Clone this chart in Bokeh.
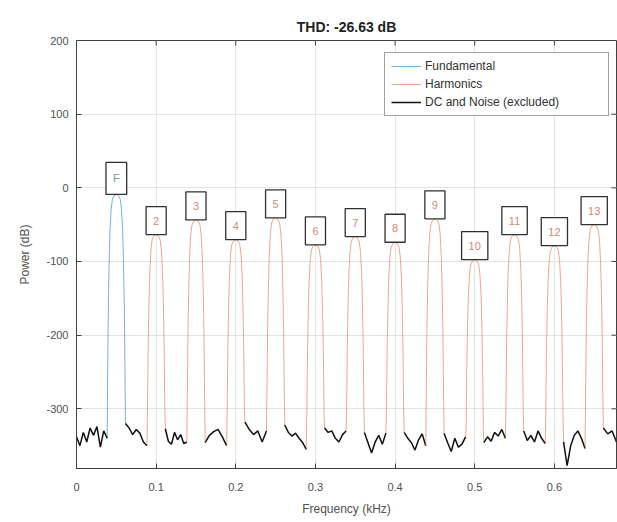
import numpy as np
from bokeh.plotting import figure
from bokeh.models import Range1d, FixedTicker, Legend, LegendItem, ColumnDataSource
from bokeh.core.properties import value
from bokeh.embed import file_html
from bokeh.resources import INLINE

# ---------------- data ----------------
title_text = "THD: -26.63 dB"
x_label = "Frequency (kHz)"
y_label = "Power (dB)"

fund_label = "F"
fund_freq = 0.05          # kHz
fund_db = -9.0            # dB (top of the fundamental peak)

harm_labels = ["2", "3", "4", "5", "6", "7", "8", "9", "10", "11", "12", "13"]
harm_freq = [0.10, 0.15, 0.20, 0.25, 0.30, 0.35, 0.40, 0.45, 0.50, 0.55, 0.60, 0.65]
harm_db = [-63.5, -43.5, -70.2, -40.8, -77.4, -66.2, -73.9, -42.1, -97.4, -63.5, -78.4, -49.9]

# shape of one spectral peak (offset from centre in kHz, drop below peak in dB)
lobe_offset = [0.0108, 0.0100, 0.0090, 0.0080, 0.0065, 0.0050, 0.0030]
lobe_drop = [-230, -150, -90, -50, -20, -7, -2]
lobe_base = 0.0115        # half width where the lobe meets the noise floor

# noise floor between the peaks (dB), one list per gap, left to right
noise_db = [
    [-338, -350, -332, -345, -326, -336, -324, -352, -330, -340],
    [-320, -326, -335, -328, -333, -345, -350],
    [-327, -344, -348, -332, -342, -335, -347, -345],
    [-346, -336, -331, -328, -338, -350],
    [-318, -328, -335, -330, -345, -330],
    [-322, -332, -337, -333, -340, -346, -355],
    [-326, -332, -330, -340, -345, -335, -330],
    [-332, -346, -360, -345, -336, -348, -333],
    [-332, -340, -346, -356, -342, -334, -350],
    [-333, -346, -358, -340, -352, -348, -338],
    [-346, -338, -344, -332, -337, -328, -340],
    [-330, -343, -336, -345, -330, -340, -347],
    [-345, -377, -350, -336, -330, -340, -354],
    [-326, -334, -330, -345],
]

x_ticks = [0, 0.1, 0.2, 0.3, 0.4, 0.5, 0.6]
x_tick_labels = ["0", "0.1", "0.2", "0.3", "0.4", "0.5", "0.6"]
y_ticks = [-300, -200, -100, 0, 100, 200]
y_tick_labels = ["-300", "-200", "-100", "0", "100", "200"]
x_lim = (0, 0.678)
y_lim = (-381, 200)

legend_labels = ["Fundamental", "Harmonics", "DC and Noise (excluded)"]

# ---------------- build traces ----------------
peak_freqs = [fund_freq] + harm_freq
peak_dbs = [fund_db] + harm_db

noise_xs, noise_ys = [], []
for k, vals in enumerate(noise_db):
    start = 0.0 if k == 0 else peak_freqs[k - 1] + lobe_base
    end = x_lim[1] if k == len(peak_freqs) else peak_freqs[k] - lobe_base
    noise_xs.append(list(np.linspace(start, end, len(vals))))
    noise_ys.append(list(vals))


def peak_trace(k):
    c, h = peak_freqs[k], peak_dbs[k]
    left_base = noise_db[k][-1]
    right_base = noise_db[k + 1][0]
    xs = [c - lobe_base] + [c - o for o in lobe_offset] + [c] + [c + o for o in reversed(lobe_offset)] + [c + lobe_base]
    ys = [left_base] + [h + d for d in lobe_drop] + [h] + [h + d for d in reversed(lobe_drop)] + [right_base]
    return xs, ys


fx, fy = peak_trace(0)
hx, hy = [], []
for k in range(1, len(peak_freqs)):
    a, b = peak_trace(k)
    hx.append(a)
    hy.append(b)

# ---------------- figure ----------------
FONT = "Liberation Sans"
AX = "#404040"
TXT = "#505050"

p = figure(width=617, height=522, output_backend="svg", toolbar_location=None,
           x_range=Range1d(*x_lim), y_range=Range1d(*y_lim),
           min_border_left=76, min_border_right=1, min_border_top=40, min_border_bottom=54)
p.background_fill_color = "white"
p.border_fill_color = "white"
p.outline_line_color = AX
p.outline_line_width = 1

p.title.text = title_text
p.title.align = "center"
p.title.text_font = FONT
p.title.text_font_size = "14px"
p.title.text_font_style = "bold"
p.title.text_color = "#222222"
p.title.standoff = 11

xax = p.below[0]
yax = p.left[0]
xax.ticker = FixedTicker(ticks=x_ticks)
xax.major_label_overrides = {t: l for t, l in zip(x_ticks, x_tick_labels)}
yax.ticker = FixedTicker(ticks=y_ticks)
yax.major_label_overrides = {t: l for t, l in zip(y_ticks, y_tick_labels)}
xax.axis_label = x_label
yax.axis_label = y_label
for ax in (xax, yax):
    ax.axis_line_color = AX
    ax.major_tick_line_color = AX
    ax.major_tick_in = 5
    ax.major_tick_out = 0
    ax.minor_tick_line_color = None
    ax.major_label_text_font = FONT
    ax.major_label_text_font_size = "11px"
    ax.major_label_text_color = TXT
    ax.axis_label_text_font = FONT
    ax.axis_label_text_font_size = "12px"
    ax.axis_label_text_font_style = "normal"
    ax.axis_label_text_color = TXT
xax.major_label_standoff = 14
xax.axis_label_standoff = 8
yax.major_label_standoff = 8
yax.axis_label_standoff = 11

p.grid.grid_line_color = "#e4e4e4"
p.grid.grid_line_width = 1

# inward tick marks on the top and right edges of the box
p.ray(x=x_ticks, y=[y_lim[1]] * len(x_ticks), length=5, length_units="screen",
      angle=-np.pi / 2, line_color=AX, line_width=1)
p.ray(x=[x_lim[1]] * len(y_ticks), y=y_ticks, length=5, length_units="screen",
      angle=np.pi, line_color=AX, line_width=1)

noise_r = p.multi_line(noise_xs, noise_ys, line_color="#111111", line_width=1.5)
harm_r = p.multi_line(hx, hy, line_color="#D95319", line_width=1, line_alpha=0.5)
fund_r = p.line(fx, fy, line_color="#0072BD", line_width=1, line_alpha=0.55)

# peak labels in boxes
lab_src = ColumnDataSource(dict(x=peak_freqs, y=peak_dbs, t=[fund_label] + harm_labels,
                                c=["#7893a6"] + ["#cf8a70"] * len(harm_labels)))
p.text(x="x", y="y", text="t", source=lab_src, text_align="center", text_baseline="bottom",
       text_color="c", text_font=value(FONT), text_font_size="11px",
       border_line_color="#303030", border_line_width=1.3,
       background_fill_color="white",
       padding=dict(left=7, right=7, top=10, bottom=10))

legend = Legend(items=[LegendItem(label=legend_labels[0], renderers=[fund_r]),
                       LegendItem(label=legend_labels[1], renderers=[harm_r]),
                       LegendItem(label=legend_labels[2], renderers=[noise_r])],
                location=(308, 352))
legend.border_line_color = AX
legend.border_line_width = 1
legend.background_fill_color = "white"
legend.background_fill_alpha = 1
legend.label_text_font = FONT
legend.label_text_font_size = "12px"
legend.label_text_color = "#333333"
legend.glyph_width = 30
legend.glyph_height = 14
legend.label_height = 14
legend.label_width = 177
legend.label_standoff = 4
legend.spacing = 4
legend.padding = 6
legend.margin = 0
p.add_layout(legend)

open("out.html", "w").write(file_html(p, INLINE))
